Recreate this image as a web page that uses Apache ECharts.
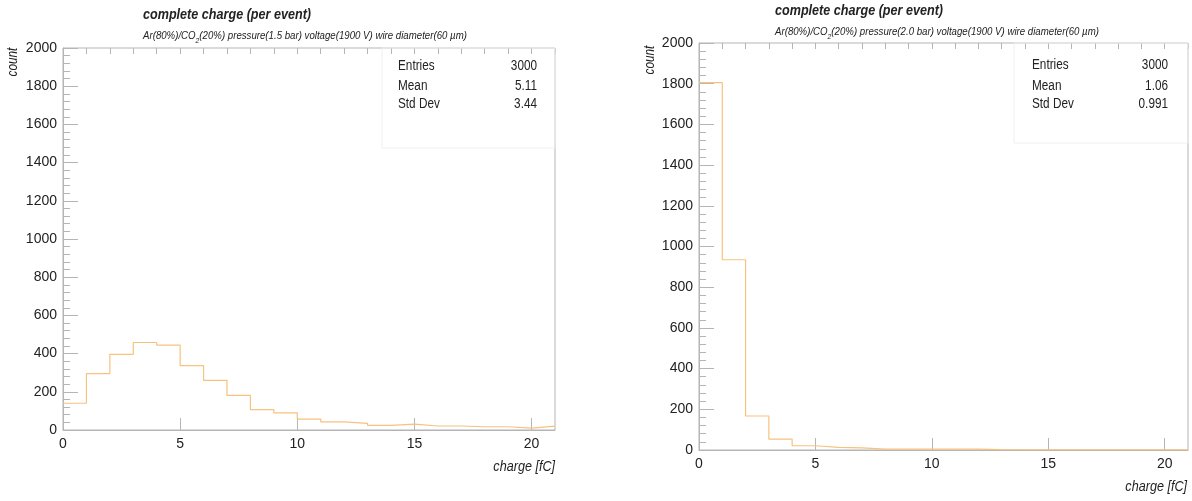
<!DOCTYPE html>
<html>
<head>
<meta charset="utf-8">
<script src="https://cdn.jsdelivr.net/npm/echarts@6/dist/echarts.min.js"></script>
<style>
html,body{margin:0;padding:0;background:#fff;}
#c{width:1192px;height:501px;}
</style>
</head>
<body>
<div id="c"></div>
<script>
// ---- data ----
const binWidth = 1;
const xMin = 0, xMax = 21;
const leftCounts  = [140, 295, 396, 458, 444, 337, 260, 181, 107, 90, 57, 43, 35, 24, 31, 21, 21, 17, 17, 10, 20];
const rightCounts = [1805, 935, 167, 53, 21, 13, 10, 4, 4, 4, 4, 4, 2, 1, 1, 1, 1, 1, 1, 1, 1];
const xTickLabels = ['0', '5', '10', '15', '20'];
const yTickLabels = ['0','200','400','600','800','1000','1200','1400','1600','1800','2000'];
const titleText = 'complete charge (per event)';
const leftSubtitle  = ['Ar(80%)/CO', '2', '(20%) pressure(1.5 bar) voltage(1900 V) wire diameter(60 \u00b5m)'];
const rightSubtitle = ['Ar(80%)/CO', '2', '(20%) pressure(2.0 bar) voltage(1900 V) wire diameter(60 \u00b5m)'];
const statNames = ['Entries', 'Mean', 'Std Dev'];
const leftStats  = ['3000', '5.11', '3.44'];
const rightStats = ['3000', '1.06', '0.991'];
const xAxisTitle = 'charge [fC]';
const yAxisTitle = 'count';

// ---- styling ----
const FONT = "'Liberation Sans Narrow', 'Liberation Sans', Arial, sans-serif";
const HIST = '#f6c27e';
const FRAME = '#b5b5b5';
const TXT = '#222';
const SQ = 0.84; // horizontal squeeze for condensed look

function stepData(counts) {
  const d = counts.map((v, i) => [xMin + i * binWidth, v]);
  d.push([xMin + counts.length * binWidth, counts[counts.length - 1]]);
  return d;
}

const grids = [
  {left: 63, top: 48, width: 492, height: 382},
  {left: 699, top: 43, width: 489, height: 407}
];

const chart = echarts.init(document.getElementById('c'), null, {renderer: 'canvas'});

const xAxes = [], yAxes = [], series = [];
grids.forEach((g, gi) => {
  xAxes.push({
    type: 'value', gridIndex: gi, min: xMin, max: xMax, interval: 5,
    axisLine: {show: true, lineStyle: {color: FRAME, width: 1}},
    axisTick: {show: true, inside: true, length: 12, lineStyle: {color: FRAME}},
    minorTick: {show: false},
    splitLine: {show: false},
    axisLabel: {
      show: true, margin: 7, color: TXT, fontSize: 14, fontFamily: FONT,
      showMaxLabel: false,
      formatter: v => (v % 5 === 0 && xTickLabels[v / 5] !== undefined) ? xTickLabels[v / 5] : ''
    }
  });
  xAxes.push({
    type: 'value', gridIndex: gi, min: xMin, max: xMax, interval: 1,
    axisLine: {show: false},
    axisTick: {show: true, inside: true, length: 6, lineStyle: {color: FRAME}},
    splitLine: {show: false},
    axisLabel: {show: false}
  });
  yAxes.push({
    type: 'value', gridIndex: gi, min: 0, max: 2000, interval: 200,
    axisLine: {show: true, lineStyle: {color: FRAME, width: 1}},
    axisTick: {show: true, inside: true, length: 15, lineStyle: {color: FRAME}},
    minorTick: {show: true, splitNumber: 5, length: 7, lineStyle: {color: FRAME}},
    splitLine: {show: false},
    axisLabel: {
      show: true, margin: 6, color: TXT, fontSize: 14, fontFamily: FONT,
      formatter: v => yTickLabels[Math.round(v / 200)]
    }
  });
  series.push({
    type: 'line', xAxisIndex: gi * 2, yAxisIndex: gi,
    step: 'end', symbol: 'none', silent: true,
    lineStyle: {color: HIST, width: 1.2},
    data: stepData(gi === 0 ? leftCounts : rightCounts),
    z: 5
  });
});

function subtitleText(parts) {
  return '{a|' + parts[0] + '}{s|' + parts[1] + '}{a|' + parts[2] + '}';
}
const subRich = {
  a: {fontSize: 11.5, fontStyle: 'italic', fontFamily: FONT, color: TXT},
  s: {fontSize: 8, fontStyle: 'italic', fontFamily: FONT, color: TXT, padding: [9, 0, 0, 0]}
};

const graphics = [];
const layouts = [
  {tx: 143, ty: 15, sy: 36, sub: leftSubtitle, stats: leftStats, sx: 398, vx: 537, rows: [66, 86, 104], box: [382, 48, 173, 100], ytx: 13, yty: 62, xnx: 555, xny: 467},
  {tx: 775, ty: 11, sy: 32, sub: rightSubtitle, stats: rightStats, sx: 1032, vx: 1168, rows: [65, 86, 104], box: [1014, 43, 174, 100], ytx: 650, yty: 60, xnx: 1187, xny: 487}
];
layouts.forEach(L => {
  graphics.push({type: 'text', x: L.tx, y: L.ty, scaleX: SQ, style: {text: titleText, font: "italic bold 15px " + FONT, fill: TXT, verticalAlign: 'middle'}});
  graphics.push({type: 'text', x: L.tx, y: L.sy, scaleX: SQ, style: {text: subtitleText(L.sub), rich: subRich, font: 'italic 11.5px ' + FONT, fill: TXT, verticalAlign: 'middle'}});
  graphics.push({type: 'rect', shape: {x: L.box[0], y: L.box[1], width: L.box[2], height: L.box[3]}, style: {fill: 'rgba(255,255,255,0)', stroke: '#f0f0f0', lineWidth: 1}, z: 1});
  statNames.forEach((n, i) => {
    graphics.push({type: 'text', x: L.sx, y: L.rows[i], scaleX: SQ, style: {text: n, font: '14px ' + FONT, fill: TXT, align: 'left', verticalAlign: 'middle'}});
    graphics.push({type: 'text', x: L.vx, y: L.rows[i], scaleX: SQ, style: {text: L.stats[i], font: '14px ' + FONT, fill: TXT, align: 'right', verticalAlign: 'middle'}});
  });
  graphics.push({type: 'text', x: L.ytx, y: L.yty, rotation: Math.PI / 2, scaleX: SQ, style: {text: yAxisTitle, font: 'italic 14px ' + FONT, fill: TXT, align: 'center', verticalAlign: 'middle'}});
  graphics.push({type: 'text', x: L.xnx, y: L.xny, scaleX: SQ, style: {text: xAxisTitle, font: 'italic 15px ' + FONT, fill: TXT, align: 'right', verticalAlign: 'middle'}});
});

chart.setOption({
  animation: false,
  backgroundColor: '#ffffff',
  grid: grids.map(g => Object.assign({show: true, borderColor: FRAME, borderWidth: 1, backgroundColor: 'transparent'}, g)),
  xAxis: xAxes,
  yAxis: yAxes,
  series: series,
  graphic: graphics
});
</script>
</body>
</html>
